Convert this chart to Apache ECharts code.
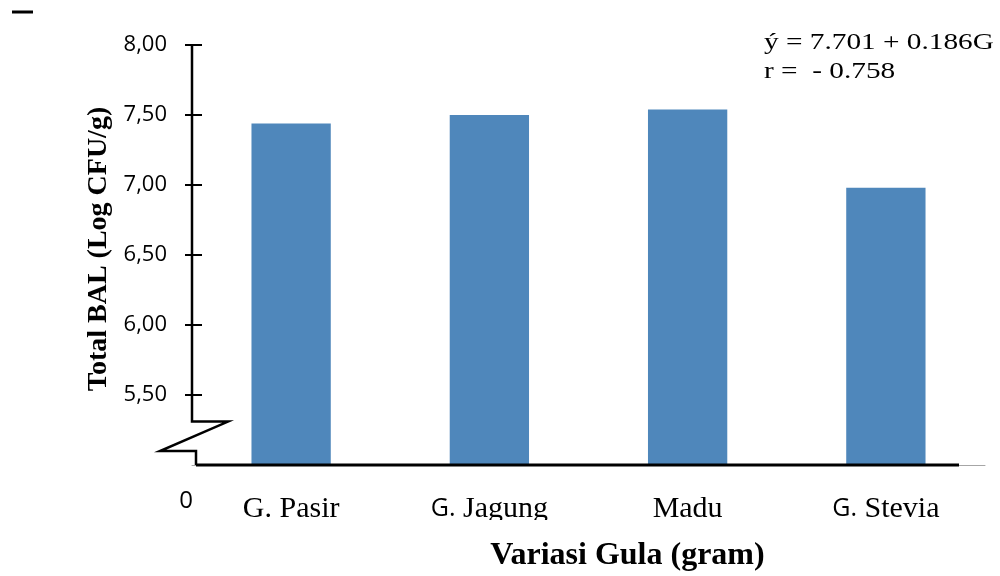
<!DOCTYPE html>
<html>
<head>
<meta charset="utf-8">
<script src="https://cdn.jsdelivr.net/npm/echarts@6/dist/echarts.min.js"></script>
<style>
  html, body { margin: 0; padding: 0; background: #fff; }
  #chart { width: 1000px; height: 576px; }
</style>
</head>
<body>
<div id="chart"></div>
<script>
// Total lactic acid bacteria (log CFU/g) for each sugar variant
const categories = ['G. Pasir', 'G. Jagung', 'Madu', 'G. Stevia'];
const totalBAL = [7.44, 7.50, 7.54, 6.98];
const yTickValues = [5.5, 6, 6.5, 7, 7.5, 8];
const equationLines = ['ý = 7.701 + 0.186G', 'r =  - 0.758'];
const zeroLabel = '0';

const SERIF = '"Liberation Serif", "DejaVu Serif", serif';
const SANS = '"Open Sans", "Noto Sans", sans-serif';

const chart = echarts.init(document.getElementById('chart'), null, { renderer: 'canvas' });

function tickLabel(v) {
  return v.toFixed(2).replace('.', ',');
}

// "G." of some names is set in a sans face, the rest in serif
function categoryLabel(name, idx) {
  if (idx === 1 || idx === 3) {
    return '{s|G.}{r|' + name.slice(2) + '}';
  }
  return '{r|' + name + '}';
}

chart.setOption({
  animation: false,
  backgroundColor: '#ffffff',
  grid: { left: 192, right: 15, top: 45, bottom: 111, containLabel: false, outerBoundsMode: 'none' },
  xAxis: {
    type: 'category',
    data: categories,
    axisLine: { show: true, lineStyle: { color: '#a6a6a6', width: 1 } },
    axisTick: { show: false },
    axisLabel: {
      margin: 29,
      formatter: categoryLabel,
      rich: {
        r: { fontFamily: SERIF, fontSize: 30, color: '#000' },
        s: { fontFamily: SANS, fontSize: 25, color: '#000' }
      }
    },
    name: 'Variasi Gula (gram)',
    nameLocation: 'middle',
    nameGap: 75,
    nameTextStyle: {
      fontFamily: SERIF, fontWeight: 'bold', fontSize: 32, color: '#000',
      padding: [0, 0, 0, 78]
    }
  },
  yAxis: [
    {
      type: 'value',
      min: 5, max: 8, interval: 0.5,
      axisLine: { show: false },
      splitLine: { show: false },
      axisTick: { show: true, customValues: yTickValues, length: 7, lineStyle: { color: '#000', width: 2 } },
      axisLabel: {
        customValues: yTickValues,
        formatter: tickLabel,
        margin: 25,
        fontFamily: SANS, fontSize: 22, color: '#000'
      },
      name: 'Total BAL (Log CFU/g)',
      nameLocation: 'middle',
      nameRotate: 90,
      nameGap: 77,
      nameTextStyle: {
        fontFamily: SERIF, fontWeight: 'bold', fontSize: 28, color: '#000',
        padding: [0, 0, 0, 12]
      }
    },
    {
      // inner half of the cross-shaped ticks
      type: 'value',
      position: 'left',
      min: 5, max: 8, interval: 0.5,
      axisLine: { show: false },
      splitLine: { show: false },
      axisTick: { show: true, inside: true, customValues: yTickValues, length: 10, lineStyle: { color: '#000', width: 2 } },
      axisLabel: { show: false }
    }
  ],
  series: [{
    type: 'bar',
    data: totalBAL,
    barWidth: '40%',
    itemStyle: { color: '#4f87bb' }
  }]
});

// Axis line with a scale break, baseline, the "0" mark and the regression note
function drawDecorations() {
  const y = v => chart.convertToPixel({ yAxisIndex: 0 }, v);
  const x0 = chart.convertToPixel({ xAxisIndex: 0 }, categories[0]);
  const x1 = chart.convertToPixel({ xAxisIndex: 0 }, categories[1]);
  const band = x1 - x0;
  const L = x0 - band / 2;
  const y0 = y(5);
  const yBreakTop = y(5.31);
  const yBreakLow = y(5.1);

  chart.setOption({
    graphic: [
      {
        type: 'polyline',
        shape: {
          points: [
            [L, y(8)], [L, yBreakTop], [L + 36, yBreakTop],
            [L - 32, yBreakLow], [L + 4, yBreakLow], [L + 4, y0]
          ]
        },
        style: { stroke: '#000', lineWidth: 2.5, fill: null },
        z: 50
      },
      {
        type: 'line',
        shape: { x1: L + 4, y1: y0, x2: L + band * 4 - 26, y2: y0 },
        style: { stroke: '#000', lineWidth: 3 },
        z: 50
      },
      {
        // the category text boxes end just below the baseline of the names
        type: 'rect',
        shape: { x: L + 20, y: y0 + 55, width: band * 4, height: 17 },
        style: { fill: '#fff' },
        z: 100
      },
      {
        type: 'line',
        shape: { x1: 12, y1: 12, x2: 33, y2: 12 },
        style: { stroke: '#000', lineWidth: 3 }
      },
      {
        type: 'text',
        x: L - 6, y: y0 + 36,
        style: { text: zeroLabel, font: '24px ' + SANS, fill: '#000', textAlign: 'center', textVerticalAlign: 'middle' }
      },
      {
        type: 'text',
        x: 764, y: 43,
        scaleX: 1.22, originX: 0,
        style: { text: equationLines[0], font: '24px ' + SERIF, fill: '#000', textAlign: 'left', textVerticalAlign: 'middle' }
      },
      {
        type: 'text',
        x: 764, y: 72,
        scaleX: 1.22, originX: 0,
        style: { text: equationLines[1], font: '24px ' + SERIF, fill: '#000', textAlign: 'left', textVerticalAlign: 'middle' }
      }
    ]
  });
}
drawDecorations();
</script>
</body>
</html>
